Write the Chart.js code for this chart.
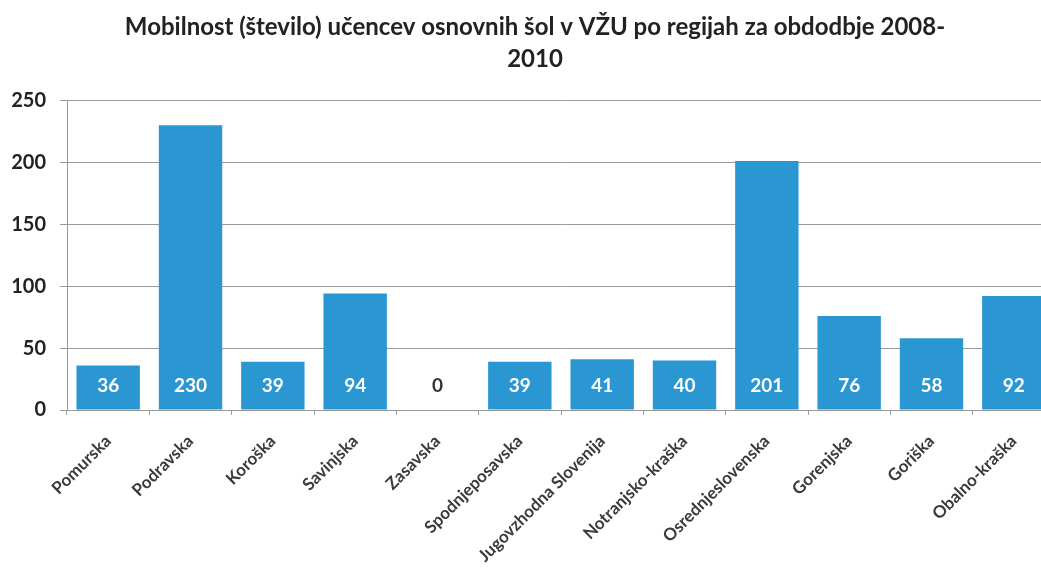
<!DOCTYPE html>
<html><head><meta charset="utf-8">
<script src="https://cdn.jsdelivr.net/npm/chart.js@4/dist/chart.umd.min.js"></script>
<style>html,body{margin:0;padding:0;background:#fff;overflow:hidden;width:1041px;height:569px}</style>
</head><body>
<canvas id="c" width="1070" height="569" style="width:1070px;height:569px;display:block"></canvas>
<script>
const categories = ["Pomurska","Podravska","Koroška","Savinjska","Zasavska","Spodnjeposavska","Jugovzhodna Slovenija","Notranjsko-kraška","Osrednjeslovenska","Gorenjska","Goriška","Obalno-kraška"];
const values = [36,230,39,94,0,39,41,40,201,76,58,92];
const yTicks = [0,50,100,150,200,250];
const titleLines = ["Mobilnost (število) učencev osnovnih šol v VŽU po regijah za obdodbje 2008-","2010"];

const FONT = "Lato, 'Open Sans', sans-serif";
const labelPlugin = {
  id: 'barLabels',
  afterDatasetsDraw(chart) {
    const ctx = chart.ctx;
    const meta = chart.getDatasetMeta(0);
    const y0 = chart.scales.y.getPixelForValue(0);
    ctx.save();
    ctx.font = "bold 19px " + FONT;
    ctx.textAlign = 'center';
    ctx.textBaseline = 'middle';
    meta.data.forEach((bar, i) => {
      const v = values[i];
      ctx.fillStyle = v === 0 ? '#333333' : '#ffffff';
      ctx.fillText(String(v), bar.x, y0 - 24);
    });
    ctx.restore();
  }
};

new Chart(document.getElementById('c'), {
  type: 'bar',
  data: { labels: categories, datasets: [{ data: values, backgroundColor: '#2a96d2', barPercentage: 0.77, categoryPercentage: 1 }] },
  options: {
    responsive: false, animation: false,
    layout: { padding: { top: 12, right: 0, left: 0, bottom: 0 } },
    plugins: {
      legend: { display: false }, tooltip: { enabled: false },
      title: { display: true, text: titleLines, color: '#222', font: { family: FONT, size: 24, weight: 'bold', lineHeight: 1.3 }, padding: { top: 0, bottom: 26 } }
    },
    scales: {
      x: {
        grid: { display: true, offset: true, drawOnChartArea: false, tickLength: 5, color: '#9a9a9a' },
        border: { color: '#9a9a9a' },
        ticks: { maxRotation: 45, minRotation: 45, autoSkip: false, color: '#3a3a3a', font: { family: FONT, size: 17, weight: 'bold' }, padding: 16 },
        afterFit(s) { s.height = 159; }
      },
      y: {
        min: 0, max: 250,
        afterBuildTicks(s) { s.ticks = yTicks.map(v => ({ value: v })); },
        grid: { color: '#9a9a9a', tickLength: 7 },
        border: { color: '#9a9a9a' },
        ticks: { color: '#222', font: { family: FONT, size: 20, weight: 'bold' }, padding: 14 },
        afterFit(s) { s.width = 67; }
      },
      yr: {
        position: 'right', display: true,
        grid: { display: false }, border: { display: false },
        ticks: { display: false },
        afterFit(s) { s.width = 15; }
      }
    }
  },
  plugins: [labelPlugin]
});
</script>
</body></html>
